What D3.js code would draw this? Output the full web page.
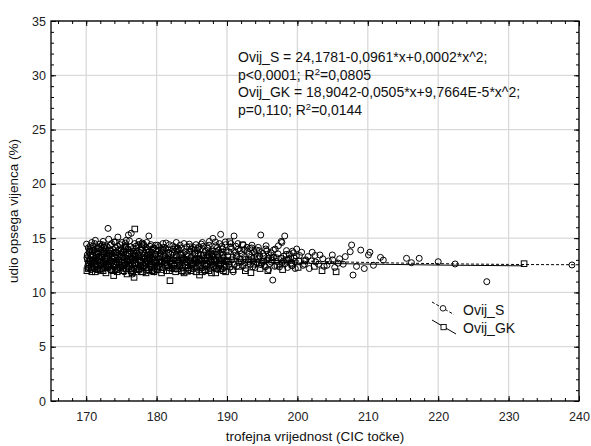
<!DOCTYPE html>
<html><head><meta charset="utf-8">
<script src="https://cdn.jsdelivr.net/npm/d3@7"></script>
<style>body{margin:0;background:#fff;}svg{display:block;font-family:"Liberation Sans",Arial,sans-serif;}</style>
</head><body><svg id="c" width="591" height="446"></svg>
<script>
const xTicks = [170,180,190,200,210,220,230,240];
const yTicks = [0,5,10,15,20,25,30,35];
const seriesNames = ["Ovij_S","Ovij_GK"];
const annotation = [
  ["Ovij_S = 24,1781-0,0961*x+0,0002*x^2;"],
  ["p<0,0001; R","2","=0,0805"],
  ["Ovij_GK = 18,9042-0,0505*x+9,7664E-5*x^2;"],
  ["p=0,110; R","2","=0,0144"]
];
const fitS = [[170,13.55],[180,13.3],[190,13.07],[200,12.9],[210,12.76],[220,12.65],[230,12.58],[240,12.55]];
const fitGK = [[170,13.14],[180,12.98],[190,12.84],[200,12.71],[210,12.61],[220,12.52],[232,12.45]];
const ovijS = [
[170.1,13.2],[170.2,12.4],[170.3,14.1],[170.4,13.7],[170.5,12.9],[170.6,13.5],[170.7,12.1],[170.8,14.6],[170.9,13.0],[170.3,12.7],[170.6,14.3],[170.8,13.9],
[171.0,13.4],[171.1,12.2],[171.2,14.5],[171.3,13.1],[171.4,12.6],[171.5,13.8],[171.6,14.2],[171.7,12.9],[171.8,13.3],[171.9,12.0],[171.3,14.8],[171.7,13.6],
[172.0,12.5],[172.1,13.9],[172.2,13.2],[172.3,14.4],[172.4,12.8],[172.5,13.5],[172.6,12.3],[172.7,14.0],[172.8,13.0],[172.9,12.7],[172.4,14.7],[172.6,13.7],
[173.0,14.2],[173.1,15.9],[173.2,12.6],[173.3,13.4],[173.4,12.1],[173.5,13.8],[173.6,14.5],[173.7,13.1],[173.8,12.4],[173.9,13.6],[173.2,14.9],[173.5,12.9],
[174.0,13.3],[174.1,12.0],[174.2,14.1],[174.3,13.7],[174.4,12.7],[174.5,15.1],[174.6,13.0],[174.7,12.3],[174.8,14.4],[174.9,13.5],[174.3,12.5],[174.6,13.9],
[175.0,12.8],[175.1,14.6],[175.2,13.2],[175.3,12.2],[175.4,13.9],[175.5,14.3],[175.6,12.6],[175.7,13.5],[175.8,13.0],[175.9,14.0],[175.4,11.9],[175.7,14.8],
[176.0,15.3],[176.1,13.6],[176.2,12.4],[176.3,14.2],[176.4,15.45],[176.5,13.1],[176.6,12.9],[176.7,13.8],[176.8,12.2],[176.9,14.5],[176.3,13.3],[176.6,11.7],
[177.0,13.4],[177.1,12.7],[177.2,14.1],[177.3,13.0],[177.4,12.1],[177.5,14.7],[177.6,13.7],[177.7,12.5],[177.8,13.9],[177.9,13.2],[177.4,14.4],[177.7,12.9],
[178.0,12.3],[178.1,13.6],[178.2,14.3],[178.3,13.1],[178.4,12.6],[178.5,13.9],[178.6,12.0],[178.7,14.0],[178.8,13.4],[178.9,15.2],[178.3,12.8],[178.6,14.6],
[179.0,13.0],[179.1,12.4],[179.2,14.4],[179.3,13.7],[179.4,12.8],[179.5,13.3],[179.6,14.1],[179.7,12.2],[179.8,13.5],[179.9,12.9],[179.4,13.9],[179.7,11.9],
[180.1,13.2],[180.3,12.5],[180.4,14.2],[180.5,13.6],[180.6,12.9],[180.7,13.9],[180.8,12.1],[180.9,14.5],
[181.0,13.4],[181.2,12.7],[181.3,14.0],[181.5,13.1],[181.6,12.3],[181.7,13.7],[181.8,14.4],[181.9,12.9],
[182.0,13.5],[182.2,12.2],[182.3,14.3],[182.4,13.0],[182.6,12.6],[182.7,13.8],[182.8,14.6],[182.9,13.3],
[183.1,12.8],[183.2,13.9],[183.3,12.4],[183.5,14.1],[183.6,13.2],[183.7,11.9],[183.8,13.6],[183.9,14.5],
[184.0,13.0],[184.1,12.5],[184.3,14.2],[184.4,13.4],[184.6,12.1],[184.7,13.8],[184.8,12.9],[184.9,14.0],
[185.0,13.3],[185.2,12.7],[185.3,13.9],[185.4,12.3],[185.6,14.4],[185.7,13.1],[185.8,12.8],[185.9,13.6],
[186.0,14.2],[186.1,12.4],[186.3,13.5],[186.4,12.9],[186.5,14.6],[186.7,13.2],[186.8,12.0],[186.9,13.8],
[187.0,13.0],[187.2,14.1],[187.3,12.6],[187.4,13.7],[187.5,14.7],[187.6,12.2],[187.8,13.4],[187.9,12.8],
[188.0,14.98],[188.1,13.3],[188.3,12.5],[188.4,14.3],[188.5,13.0],[188.7,12.1],[188.8,13.9],[188.9,14.5],
[189.1,15.35],[189.0,13.6],[189.2,12.7],[189.4,14.0],[189.5,13.2],[189.6,12.3],[189.8,14.4],[189.9,12.9],
[190.1,13.4],[190.3,12.6],[190.5,14.2],[190.7,13.0],[190.9,11.9],
[191.0,15.2],[191.2,13.7],[191.4,12.4],[191.6,14.0],[191.8,13.1],
[192.0,12.8],[192.3,14.4],[192.5,13.3],[192.7,12.2],[192.9,13.8],
[193.1,13.5],[193.3,12.6],[193.5,14.1],[193.7,12.9],[193.9,13.2],
[194.0,12.3],[194.2,13.9],[194.5,13.1],[194.8,15.29],[194.9,12.7],
[195.1,13.6],[195.3,12.5],[195.5,14.0],[195.7,13.0],[195.9,12.1],
[196.0,13.4],[196.3,12.8],[196.5,11.14],[196.6,13.9],[196.8,12.4],
[197.0,13.2],[197.3,14.3],[197.5,12.6],[197.7,14.7],[197.8,14.6],
[198.0,12.9],[198.2,15.2],[198.4,13.5],[198.6,12.3],[198.8,13.1],
[199.1,12.7],[199.3,13.8],[199.5,13.2],[199.7,12.2],[199.9,14.0],
[200.3,13.4],[200.8,12.5],[201.2,13.0],[201.7,12.2],[202.1,13.7],[202.6,12.8],[203.2,13.45],[203.8,12.4],[204.4,12.9],[204.96,13.45],[205.3,12.3],[206.0,13.1],[206.5,12.6],[207.5,13.75],[207.7,14.37],[207.9,11.6],[208.4,12.4],[209.0,13.9],[209.5,12.2],[210.1,13.45],[210.3,13.7],[210.8,12.5],[211.8,13.23],[212.2,12.98],[215.5,13.14],[216.2,12.74],[217.3,13.14],[220.0,12.83],[222.4,12.62],[226.9,10.99],[239.0,12.53],
[170.15,13.45],[170.35,12.25],[170.55,13.95],[170.75,12.65],[170.95,14.25],[170.45,13.05],[170.85,12.85],[170.05,14.45],
[171.05,12.75],[171.25,13.65],[171.45,12.45],[171.65,14.05],[171.85,13.15],[171.15,13.85],[171.55,12.15],[171.95,14.45],
[172.15,12.65],[172.35,13.55],[172.55,14.15],[172.75,12.45],[172.95,13.35],[172.05,14.25],[172.45,12.15],[172.85,13.85],
[173.05,13.15],[173.25,12.35],[173.45,14.35],[173.65,12.75],[173.85,13.95],[173.15,13.65],[173.55,12.05],[173.95,14.65],
[174.05,12.85],[174.25,13.45],[174.45,14.25],[174.65,12.55],[174.85,13.25],[174.15,14.65],[174.55,12.15],[174.95,13.85],
[175.05,13.65],[175.25,12.45],[175.45,13.15],[175.65,14.15],[175.85,12.35],[175.15,12.95],[175.55,14.55],[175.95,13.35],
[176.05,12.65],[176.25,13.85],[176.45,12.15],[176.65,14.05],[176.85,13.45],[176.15,14.75],[176.55,12.55],[176.95,13.05],
[177.05,14.25],[177.25,12.35],[177.45,13.45],[177.65,12.85],[177.85,14.15],[177.15,13.65],[177.55,12.05],[177.95,14.55],
[178.05,13.25],[178.25,12.45],[178.45,14.15],[178.65,13.45],[178.85,12.75],[178.15,14.45],[178.55,12.25],[178.95,13.75],
[179.05,14.25],[179.25,12.65],[179.45,13.15],[179.65,12.45],[179.85,14.35],[179.15,13.45],[179.55,12.05],[179.95,13.85],
[180.05,12.75],[180.25,13.85],[180.45,12.35],[180.65,14.05],[180.85,13.25],[180.15,14.35],[180.55,12.65],
[181.05,14.15],[181.25,13.35],[181.45,12.45],[181.65,13.95],[181.85,12.25],[181.35,14.55],[181.75,13.05],
[182.05,12.85],[182.25,13.65],[182.45,12.45],[182.65,14.15],[182.85,12.95],[182.35,13.95],[182.75,12.15],
[183.05,14.05],[183.25,12.65],[183.45,13.45],[183.65,12.25],[183.85,13.15],[183.35,14.35],[183.75,12.95],
[184.05,13.75],[184.25,12.85],[184.45,12.25],[184.65,14.45],[184.85,13.25],[184.35,13.55],[184.75,12.55],
[185.05,12.55],[185.25,14.15],[185.45,13.55],[185.65,12.25],[185.85,14.05],[185.35,12.95],[185.75,13.85],
[186.05,13.05],[186.25,13.95],[186.45,12.25],[186.65,14.25],[186.85,12.65],[186.35,14.45],[186.75,13.45],
[187.05,12.45],[187.25,13.35],[187.45,14.35],[187.65,13.05],[187.85,12.55],[187.35,14.05],[187.75,13.65],
[188.05,13.55],[188.25,12.85],[188.45,13.75],[188.65,14.15],[188.85,12.45],[188.35,14.65],[188.75,13.25],
[189.05,12.55],[189.25,14.25],[189.45,13.45],[189.65,12.85],[189.85,13.75],[189.35,12.15],[189.75,14.65],
[190.05,12.95],[190.25,13.75],[190.45,12.35],[190.65,14.05],[190.85,13.25],[190.55,14.5],
[191.05,12.55],[191.25,14.25],[191.45,13.35],[191.65,12.75],[191.85,13.85],[191.55,14.5],
[192.05,13.55],[192.25,12.45],[192.45,13.95],[192.65,13.05],[192.85,14.15],[192.55,12.75],
[193.05,12.85],[193.25,14.05],[193.45,13.25],[193.65,12.35],[193.85,13.75],[193.55,14.35],
[194.05,13.55],[194.25,12.75],[194.45,14.15],[194.65,13.35],[194.85,12.55],[194.55,13.85],
[195.05,12.85],[195.25,13.35],[195.45,12.35],[195.65,13.85],[195.85,13.15],[195.55,14.3],
[196.05,12.65],[196.25,13.65],[196.45,12.95],[196.65,13.25],[196.85,14.0],
[197.05,12.85],[197.25,13.55],[197.45,12.35],[197.65,13.15],[197.85,12.75],
[198.05,13.35],[198.25,12.65],[198.45,13.85],[198.65,12.95],[198.85,13.55],
[199.05,13.15],[199.25,12.45],[199.45,13.65],[199.65,12.85],[199.85,13.35],
[200.2,12.9],[200.6,13.7],[201.0,12.6],[201.5,13.3],[202.0,12.9],[202.5,13.4],[203.0,12.6],[203.6,13.1],[204.2,12.5],[205.0,13.0],[205.8,12.7],[206.8,13.3]
];
const ovijGK = [
[170.1,12.0],[170.2,13.1],[170.4,12.6],[170.5,13.8],[170.7,12.3],[170.9,13.4],
[171.1,12.8],[171.3,11.9],[171.5,13.5],[171.6,12.4],[171.8,14.1],[171.9,13.0],
[172.0,12.2],[172.2,13.3],[172.5,12.7],[172.6,14.3],[172.8,11.8],[172.9,13.6],
[173.1,12.5],[173.3,13.9],[173.6,12.1],[173.9,11.55],[173.7,13.2],[173.4,12.9],
[174.1,12.6],[174.2,13.7],[174.4,11.9],[174.6,13.0],[174.8,12.3],[174.9,14.0],
[175.0,13.3],[175.2,12.0],[175.4,12.8],[175.6,14.2],[175.8,11.7],[175.9,13.5],
[176.1,12.4],[176.3,13.1],[176.5,11.8],[176.8,11.39],[176.7,13.6],[176.9,15.84],
[177.0,12.7],[177.2,13.8],[177.5,12.2],[177.6,13.0],[177.8,11.9],[177.9,14.4],
[178.1,12.5],[178.3,13.4],[178.5,11.8],[178.6,12.9],[178.8,13.7],[178.9,12.1],
[179.0,13.2],[179.3,12.3],[179.5,14.0],[179.6,11.9],[179.8,12.8],[179.9,13.5],
[180.2,12.4],[180.5,13.3],[180.7,11.8],[180.9,13.9],
[181.1,12.9],[181.4,12.0],[181.7,13.6],[181.9,11.08],
[182.1,12.6],[182.4,13.2],[182.7,11.9],[182.9,14.0],
[183.0,12.2],[183.4,13.5],[183.6,12.8],[183.9,11.8],
[184.2,13.0],[184.5,12.3],[184.7,14.2],[184.9,12.0],
[185.1,12.7],[185.4,13.6],[185.6,11.9],[185.9,13.1],
[186.1,11.6],[186.3,12.5],[186.6,13.4],[186.9,12.1],
[187.2,13.2],[187.4,12.0],[187.7,12.8],[187.9,13.8],
[188.1,12.4],[188.4,11.8],[188.6,13.5],[188.9,12.9],
[189.1,12.2],[189.3,13.7],[189.6,12.6],[189.8,11.9],
[190.2,12.8],[190.4,14.67],[190.8,12.1],[191.3,13.4],[191.7,12.4],[192.2,14.37],[192.6,12.0],[193.0,13.0],[193.4,11.82],[193.8,12.6],[194.3,13.3],[194.7,12.2],[195.2,12.9],[195.8,12.0],[196.4,13.2],[197.1,12.5],[197.9,12.1],[198.5,13.0],[199.2,12.6],[200.1,12.3],[201.0,12.9],[202.4,12.4],[203.5,12.0],[205.5,11.9],[232.2,12.65],
[170.3,12.2],[170.6,12.9],[170.8,11.9],[171.2,12.6],[171.4,13.2],[171.7,12.1],[172.1,12.9],[172.4,12.0],[172.7,13.1],[173.0,12.3],[173.5,13.6],[173.8,12.0],[174.0,13.3],[174.3,12.1],[174.7,12.8],[175.1,12.5],[175.3,13.7],[175.7,12.2],[176.0,13.0],[176.4,12.0],[176.6,12.7],[177.1,12.1],[177.4,13.4],[177.7,12.5],[178.0,11.9],[178.4,12.7],[178.7,13.1],[179.1,12.6],[179.4,12.0],[179.7,13.0],[180.1,12.1],[180.4,12.8],[180.8,12.3],[181.2,13.1],[181.5,12.5],[181.8,12.0],[182.2,12.9],[182.5,12.2],[182.8,13.4],[183.2,12.5],[183.5,12.0],[183.8,13.0],[184.1,12.5],[184.4,11.95],[184.8,12.9],[185.2,12.2],[185.5,13.0],[185.8,12.4],[186.2,13.0],[186.5,11.9],[186.8,12.6],[187.1,12.4],[187.5,13.5],[187.8,11.8],[188.2,13.0],[188.5,12.2],[188.8,12.6],[189.2,13.0],[189.5,12.0],[189.9,12.4]
];

const svg = d3.select("#c");
const L = 51, T = 21, R = 579, B = 401;
const x = d3.scaleLinear().domain([165,240]).range([L,R]);
const y = d3.scaleLinear().domain([0,35]).range([B,T]);

// grid
const g = svg.append("g");
g.selectAll(".gx").data(xTicks).join("line").attr("x1",d=>x(d)).attr("x2",d=>x(d)).attr("y1",T).attr("y2",B).attr("stroke","#d9d9d9").attr("stroke-width",1.3);
g.selectAll(".gy").data(yTicks).join("line").attr("y1",d=>y(d)).attr("y2",d=>y(d)).attr("x1",L).attr("x2",R).attr("stroke","#d9d9d9").attr("stroke-width",1.3);

// axes with inside ticks
const xMinor = d3.range(166,241,2);
const yMinor = d3.range(0,36,1);
function addAxis(axisFn, scale, ticks, size, transform){
  const a = svg.append("g").attr("transform",transform)
    .call(axisFn(scale).tickValues(ticks).tickSize(size).tickFormat(""));
  a.select(".domain").remove();
  a.selectAll("line").attr("stroke","#000");
  return a;
}
addAxis(d3.axisTop, x, xMinor, 3, `translate(0,${B})`);
addAxis(d3.axisTop, x, xTicks, 5, `translate(0,${B})`);
const xl = svg.append("g").attr("transform",`translate(0,${B})`).call(d3.axisBottom(x).tickValues(xTicks).tickSize(0).tickPadding(11));
xl.select(".domain").remove(); xl.selectAll("text").attr("font-size",12.5).attr("fill","#222").attr("font-family","Liberation Sans, Arial, sans-serif");
addAxis(d3.axisBottom, x, xMinor, 3, `translate(0,${T})`);
addAxis(d3.axisBottom, x, xTicks, 5, `translate(0,${T})`);
addAxis(d3.axisRight, y, yMinor, 3, `translate(${L},0)`);
addAxis(d3.axisRight, y, yTicks, 5, `translate(${L},0)`);
const yl = svg.append("g").attr("transform",`translate(${L},0)`).call(d3.axisLeft(y).tickValues(yTicks).tickSize(0).tickPadding(5));
yl.select(".domain").remove(); yl.selectAll("text").attr("font-size",12.5).attr("fill","#222").attr("font-family","Liberation Sans, Arial, sans-serif");
addAxis(d3.axisLeft, y, yMinor, 3, `translate(${R},0)`);
addAxis(d3.axisLeft, y, yTicks, 5, `translate(${R},0)`);

// points
const pts = svg.append("g");
pts.selectAll("rect").data(ovijGK).join("rect")
  .attr("x",d=>x(d[0])-2.8).attr("y",d=>y(d[1])-2.8).attr("width",5.6).attr("height",5.6)
  .attr("fill","none").attr("stroke","#000").attr("stroke-width",1);
pts.selectAll("circle").data(ovijS).join("circle")
  .attr("cx",d=>x(d[0])).attr("cy",d=>y(d[1])).attr("r",3)
  .attr("fill","none").attr("stroke","#000").attr("stroke-width",1);

// fit lines
const line = d3.line().x(d=>x(d[0])).y(d=>y(d[1])).curve(d3.curveMonotoneX);
svg.append("path").datum(fitGK).attr("d",line).attr("fill","none").attr("stroke","#000").attr("stroke-width",1);
svg.append("path").datum(fitS).attr("d",line).attr("fill","none").attr("stroke","#000").attr("stroke-width",1).attr("stroke-dasharray","3,2");

// frame
svg.append("rect").attr("x",L).attr("y",T).attr("width",R-L).attr("height",B-T).attr("fill","none").attr("stroke","#000").attr("stroke-width",1.3);

// annotation
const ann = svg.append("text").attr("font-size",14).attr("fill","#111");
const baselines = [62,79.5,97,114.5];
annotation.forEach((parts,i)=>{
  ann.append("tspan").attr("x",238).attr("y",baselines[i]).text(parts[0]);
  if(parts.length>1){
    ann.append("tspan").attr("dy",-5).attr("font-size",9.5).text(parts[1]);
    ann.append("tspan").attr("dy",5).text(parts[2]);
  }
});

// legend
const lg = svg.append("g");
lg.append("line").attr("x1",432).attr("y1",302).attr("x2",454).attr("y2",314.5).attr("stroke","#000").attr("stroke-dasharray","3,2");
lg.append("circle").attr("cx",443).attr("cy",308.3).attr("r",2.8).attr("fill","#fff").attr("stroke","#000").attr("stroke-width",0.9);
lg.append("line").attr("x1",432).attr("y1",320).attr("x2",456).attr("y2",334).attr("stroke","#000");
lg.append("rect").attr("x",441).attr("y",324.5).attr("width",5.2).attr("height",5.2).attr("fill","#fff").attr("stroke","#000").attr("stroke-width",0.9);
lg.append("text").attr("x",463).attr("y",315).attr("font-size",14).attr("fill","#111").text(seriesNames[0]);
lg.append("text").attr("x",463).attr("y",333).attr("font-size",14).attr("fill","#111").text(seriesNames[1]);

// axis titles
svg.append("text").attr("x",(L+R)/2).attr("y",441).attr("text-anchor","middle").attr("font-size",13.5).attr("fill","#111").text("trofejna vrijednost (CIC točke)");
svg.append("text").attr("transform",`translate(18,${(T+B)/2}) rotate(-90)`).attr("text-anchor","middle").attr("font-size",13.5).attr("fill","#111").text("udio opsega vijenca (%)");
</script></body></html>
